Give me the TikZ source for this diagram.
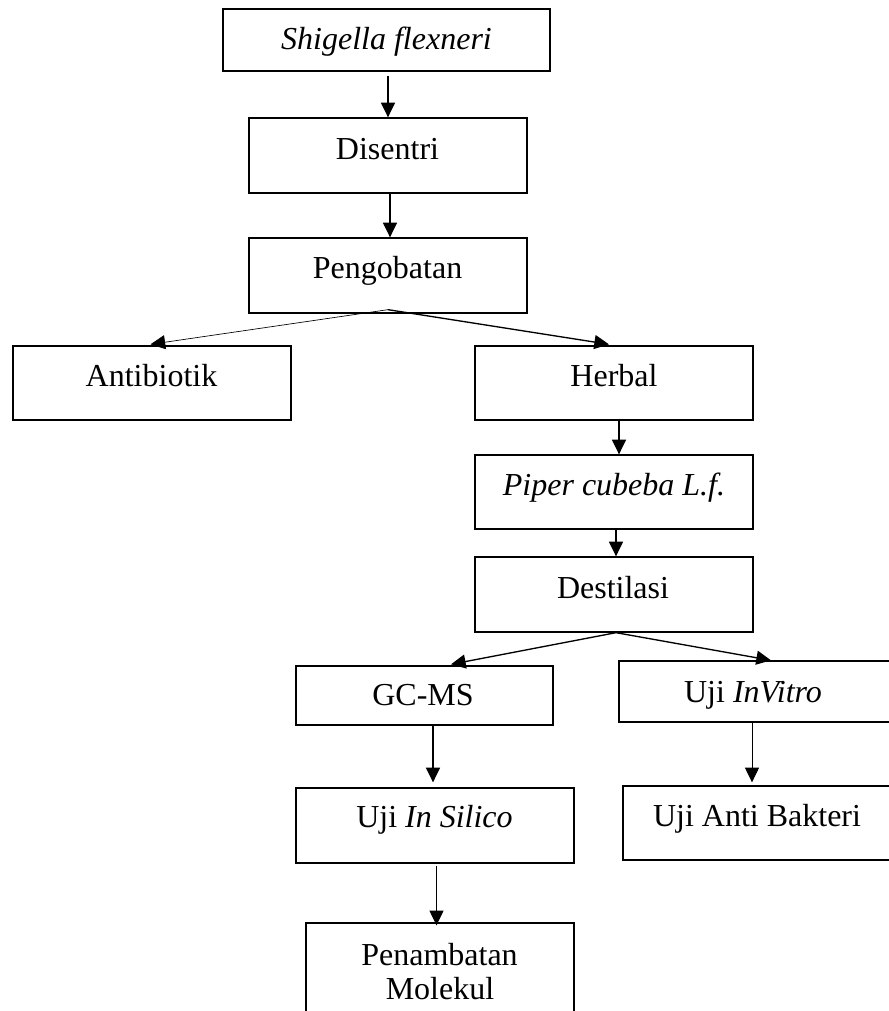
\documentclass[tikz,border=0pt]{standalone}
\usepackage{fontspec}
\setmainfont{Liberation Serif}
\usetikzlibrary{arrows.meta,fit,calc}
\tikzset{
  box/.style={draw, line width=1pt, inner sep=0pt},
  txt/.style={anchor=base, inner sep=0pt, font=\fontsize{24}{28}\selectfont},
  arr/.style={line width=1pt, -{Triangle[length=11pt,width=10.5pt]}},
  medarr/.style={line width=0.75pt, -{Triangle[length=11pt,width=10.5pt]}},
  thinarr/.style={line width=0.5pt, -{Triangle[length=11pt,width=10.5pt]}}
}
\begin{document}
\begin{tikzpicture}[x=0.75pt,y=-0.75pt]
\useasboundingbox (0,0) rectangle (889,1011);
% boxes
\node[box, fit={(223,9) (550,71)}] (S) {};
\node[box, fit={(249,118) (527,193)}] (D) {};
\node[box, fit={(249,238) (527,313)}] (P) {};
\node[box, fit={(13,346) (291,420)}] (A) {};
\node[box, fit={(475,346) (753,420)}] (H) {};
\node[box, fit={(475,455) (753,529)}] (Pi) {};
\node[box, fit={(475,557) (753,632)}] (De) {};
\node[box, fit={(296,666) (553,725)}] (G) {};
\node[box, fit={(619,661) (900,722)}] (V) {};
\node[box, fit={(296,788) (574,863)}] (Si) {};
\node[box, fit={(623,786) (900,860)}] (B) {};
\node[box, fit={(306,923) (574,1040)}] (M) {};
% texts
\node[txt] (tS) at (386.5,49) {\textit{Shigella flexneri}};
\node[txt] (tD) at (387.5,159) {Disentri};
\node[txt] (tP) at (387.6,278) {Pengobatan};
\node[txt] (tA) at (151.5,386) {Antibiotik};
\node[txt] (tH) at (614,386) {Herbal};
\node[txt] (tPi) at (614,495) {\textit{Piper cubeba L.f.}};
\node[txt] (tDe) at (613,598) {Destilasi};
\node[txt] (tG) at (423,705) {GC-MS};
\node[txt] (tV) at (753,702) {Uji \textit{InVitro}};
\node[txt] (tSi) at (434.5,827) {Uji \textit{In Silico}};
\node[txt] (tB) at (757,826) {Uji Anti Bakteri};
\node[txt] (tM1) at (439.5,965) {Penambatan};
\node[txt] (tM2) at (440,999) {Molekul};
% connectors
\draw[arr] ($(S.south)+(1.5,4)$) -- ($(S.south |- D.north)+(1.5,0)$);
\draw[arr] ($(D.south)+(2,-1)$) -- ($(D.south |- P.north)+(2,0)$);
\draw[thinarr] ($(P.south)+(0,-4)$) -- ($(A.north)+(-1.5,-1)$);
\draw[arr] ($(P.south)+(0,-4)$) -- ($(H.north)+(-5,-1)$);
\draw[arr] ($(H.south)+(5,-2)$) -- ($(H.south |- Pi.north)+(5,0)$);
\draw[arr] ($(Pi.south)+(2,0)$) -- ($(Pi.south |- De.north)+(2,0)$);
\draw[arr] ($(De.south)+(2,0)$) -- ($(G.north)+(26.5,-1)$);
\draw[arr] ($(De.south)+(2,0)$) -- ($(V.north)+(11.5,0)$);
\draw[arr] ($(G.south)+(8.5,0)$) -- ($(G.south |- Si.north)+(8.5,-5)$);
\draw[medarr] ($(V.south)+(-7.5,0)$) -- ($(V.south |- B.north)+(-7.5,-3)$);
\draw[medarr] ($(Si.south)+(1.5,2)$) -- ($(Si.south |- M.north)+(1.5,3)$);
\end{tikzpicture}
\end{document}
